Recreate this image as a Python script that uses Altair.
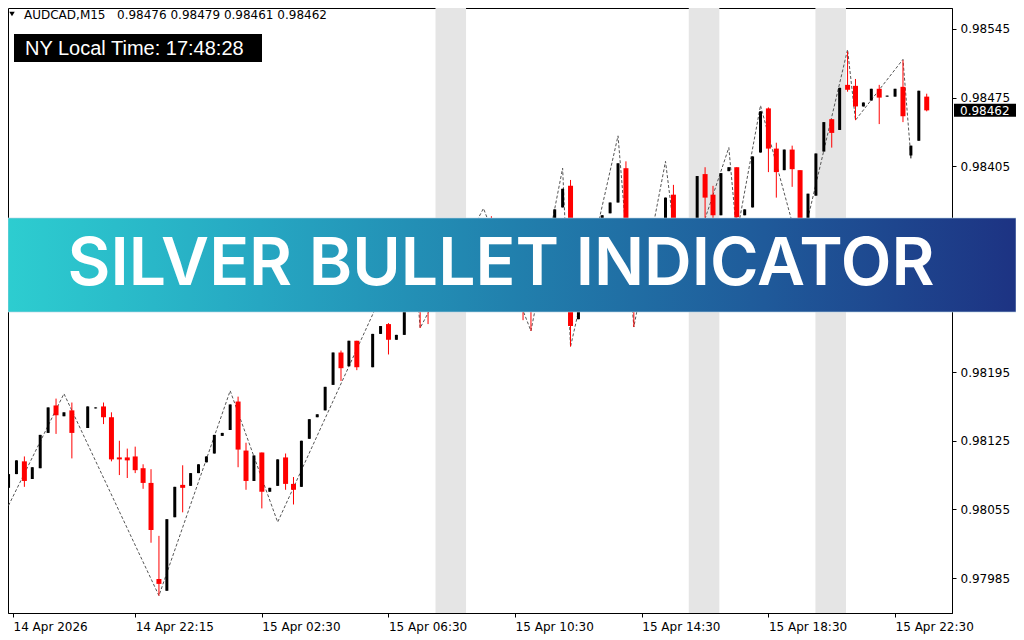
import altair as alt
import pandas as pd

# ---------------- data ----------------
bar_index = [0, 1, 2, 3, 4, 5, 6, 7, 8,
             10, 11, 12, 13, 14, 15, 16, 17, 18, 19,
             20, 21, 22, 23, 24, 25, 26, 27, 28, 29,
             30, 31, 32, 33, 34, 35, 36, 37, 38, 39,
             40, 41, 42, 43, 44, 46, 47, 48, 49,
             50, 51, 52, 53, 54, 55, 56, 57, 58, 59,
             60, 61, 62, 63, 64, 65, 66, 67, 68, 69,
             70, 71, 72, 73, 74, 75, 76, 77, 78, 79,
             80, 81, 82, 83, 84, 85, 86, 87, 88, 89,
             90, 91, 92, 93, 94, 95, 96, 97, 98, 99,
             100, 101, 102, 103, 104, 105, 106, 107, 108, 109,
             110, 111, 112, 113, 114, 115, 116]

open_ = [0.98077, 0.98091, 0.98104, 0.98086, 0.98097, 0.98133, 0.98161, 0.98150, 0.98156,
         0.98138, 0.98158, 0.98160, 0.98149, 0.98108, 0.98108, 0.98109, 0.98097, 0.98082, 0.97984,
         0.97972, 0.98047, 0.98080, 0.98079, 0.98092, 0.98103, 0.98112, 0.98130, 0.98136, 0.98165,
         0.98115, 0.98084, 0.98113, 0.98073, 0.98079, 0.98108, 0.98081, 0.98078, 0.98127, 0.98149,
         0.98156, 0.98182, 0.98215, 0.98201, 0.98227, 0.98200, 0.98234, 0.98244, 0.98228,
         0.98233, 0.98269, 0.98330, 0.98279, 0.98263, 0.98284, 0.98304, 0.98294, 0.98320, 0.98335,
         0.98345, 0.98330, 0.98304, 0.98279, 0.98269, 0.98279, 0.98269, 0.98263, 0.98284, 0.98320,
         0.98363, 0.98385, 0.98249, 0.98309, 0.98330, 0.98330, 0.98357, 0.98368, 0.98403, 0.98289,
         0.98269, 0.98299, 0.98330, 0.98345, 0.98376, 0.98330, 0.98294, 0.98320, 0.98397, 0.98376,
         0.98355, 0.98400, 0.98404, 0.98355, 0.98363, 0.98419, 0.98464, 0.98423, 0.98401, 0.98422,
         0.98401, 0.98330, 0.98375, 0.98420, 0.98453, 0.98442, 0.98488, 0.98487, 0.98466, 0.98472,
         0.98484, 0.98476, 0.98476, 0.98486, 0.98416, 0.98431, 0.98476]

high_ = [0.98091, 0.98105, 0.98109, 0.98098, 0.98131, 0.98159, 0.98168, 0.98154, 0.98164,
         0.98160, 0.98159, 0.98164, 0.98154, 0.98125, 0.98117, 0.98119, 0.98101, 0.98096, 0.98028,
         0.98045, 0.98078, 0.98100, 0.98092, 0.98101, 0.98109, 0.98131, 0.98133, 0.98162, 0.98170,
         0.98123, 0.98110, 0.98113, 0.98077, 0.98106, 0.98112, 0.98088, 0.98125, 0.98147, 0.98152,
         0.98180, 0.98215, 0.98217, 0.98227, 0.98227, 0.98234, 0.98242, 0.98245, 0.98233,
         0.98269, 0.98342, 0.98335, 0.98289, 0.98284, 0.98304, 0.98304, 0.98320, 0.98335, 0.98345,
         0.98351, 0.98354, 0.98304, 0.98279, 0.98279, 0.98279, 0.98274, 0.98284, 0.98320, 0.98361,
         0.98382, 0.98391, 0.98320, 0.98330, 0.98345, 0.98355, 0.98368, 0.98408, 0.98410, 0.98289,
         0.98299, 0.98330, 0.98345, 0.98373, 0.98386, 0.98330, 0.98320, 0.98395, 0.98404, 0.98385,
         0.98398, 0.98404, 0.98404, 0.98361, 0.98415, 0.98461, 0.98465, 0.98429, 0.98422, 0.98426,
         0.98401, 0.98377, 0.98418, 0.98450, 0.98453, 0.98485, 0.98522, 0.98494, 0.98470, 0.98484,
         0.98488, 0.98477, 0.98484, 0.98513, 0.98426, 0.98482, 0.98479]

low_ = [0.98077, 0.98091, 0.98078, 0.98086, 0.98097, 0.98133, 0.98132, 0.98150, 0.98107,
        0.98138, 0.98158, 0.98142, 0.98104, 0.98090, 0.98087, 0.98092, 0.98076, 0.98021, 0.97967,
        0.97972, 0.98047, 0.98052, 0.98079, 0.98092, 0.98103, 0.98112, 0.98130, 0.98136, 0.98098,
        0.98075, 0.98084, 0.98056, 0.98073, 0.98079, 0.98075, 0.98060, 0.98078, 0.98127, 0.98149,
        0.98156, 0.98182, 0.98186, 0.98201, 0.98197, 0.98200, 0.98234, 0.98213, 0.98228,
        0.98233, 0.98269, 0.98240, 0.98244, 0.98263, 0.98284, 0.98294, 0.98294, 0.98320, 0.98335,
        0.98325, 0.98294, 0.98279, 0.98269, 0.98269, 0.98248, 0.98237, 0.98263, 0.98284, 0.98320,
        0.98363, 0.98221, 0.98249, 0.98309, 0.98330, 0.98330, 0.98357, 0.98368, 0.98279, 0.98241,
        0.98269, 0.98299, 0.98330, 0.98345, 0.98330, 0.98279, 0.98294, 0.98320, 0.98352, 0.98348,
        0.98355, 0.98400, 0.98335, 0.98355, 0.98363, 0.98419, 0.98399, 0.98373, 0.98401, 0.98384,
        0.98318, 0.98330, 0.98375, 0.98420, 0.98424, 0.98442, 0.98481, 0.98452, 0.98466, 0.98472,
        0.98448, 0.98476, 0.98476, 0.98450, 0.98413, 0.98431, 0.98461]

close_ = [0.98091, 0.98105, 0.98084, 0.98098, 0.98131, 0.98159, 0.98151, 0.98154, 0.98133,
          0.98160, 0.98159, 0.98149, 0.98106, 0.98106, 0.98105, 0.98095, 0.98082, 0.98034, 0.97979,
          0.98045, 0.98078, 0.98077, 0.98092, 0.98101, 0.98109, 0.98131, 0.98133, 0.98162, 0.98116,
          0.98084, 0.98110, 0.98073, 0.98077, 0.98106, 0.98081, 0.98075, 0.98125, 0.98147, 0.98152,
          0.98180, 0.98215, 0.98199, 0.98227, 0.98200, 0.98234, 0.98242, 0.98228, 0.98233,
          0.98269, 0.98335, 0.98269, 0.98263, 0.98284, 0.98304, 0.98294, 0.98320, 0.98335, 0.98345,
          0.98330, 0.98299, 0.98279, 0.98269, 0.98279, 0.98258, 0.98258, 0.98284, 0.98320, 0.98361,
          0.98382, 0.98242, 0.98320, 0.98330, 0.98345, 0.98355, 0.98368, 0.98408, 0.98279, 0.98269,
          0.98299, 0.98330, 0.98345, 0.98373, 0.98330, 0.98299, 0.98320, 0.98395, 0.98373, 0.98355,
          0.98398, 0.98404, 0.98353, 0.98361, 0.98415, 0.98461, 0.98423, 0.98399, 0.98422, 0.98402,
          0.98340, 0.98377, 0.98418, 0.98450, 0.98439, 0.98485, 0.98483, 0.98466, 0.98470, 0.98484,
          0.98475, 0.98477, 0.98484, 0.98456, 0.98426, 0.98482, 0.98462]

# zigzag turning points (bar index, price)
zz_index = [0, 7, 19, 28, 34, 51, 52, 60, 66, 70, 71, 77, 79, 83, 85, 91, 92, 95, 100, 106, 107, 113, 114]
zz_price = [0.98059, 0.98173, 0.97967, 0.98176, 0.98042, 0.98342, 0.98240, 0.98362, 0.98237,
            0.98403, 0.98221, 0.98436, 0.98241, 0.98410, 0.98279, 0.98424, 0.98335, 0.98467,
            0.98318, 0.98524, 0.98452, 0.98514, 0.98414]

# silver bullet session windows (bar index)
band_start = [54, 86, 102]
band_end = [58, 90, 106]

x_tick_index = [0.5625, 16, 32, 48, 64, 80, 96, 112]
x_tick_labels = ["14 Apr 2026", "14 Apr 22:15", "15 Apr 02:30", "15 Apr 06:30",
                 "15 Apr 10:30", "15 Apr 14:30", "15 Apr 18:30", "15 Apr 22:30"]
y_ticks = [0.97985, 0.98055, 0.98125, 0.98195, 0.98265, 0.98335, 0.98405, 0.98475, 0.98545]

symbol = "AUDCAD,M15"
ny_time = "NY Local Time: 17:48:28"
banner_title = "SILVER BULLET INDICATOR"

# ---------------- chart ----------------
W, H = 944, 605
RIGHT = 64

df = pd.DataFrame({"k": bar_index, "open": open_, "high": high_, "low": low_, "close": close_})
df["dir"] = ["up" if c >= o else "down" for o, c in zip(open_, close_)]

zz = pd.DataFrame({"k": zz_index, "p": zz_price})
bands = pd.DataFrame({"s": band_start, "e": band_end})
last = pd.DataFrame({"p": [close_[-1]], "t": [f"{close_[-1]:.5f}"]})
one = pd.DataFrame({"a": [0]})

xs = alt.Scale(domain=[0.5625, 118.5625], nice=False, zero=False)
ys = alt.Scale(domain=[0.9794932, 0.985664], nice=False, zero=False)

label_arr = "[" + ",".join(f"'{t}'" for t in x_tick_labels) + "]"
xaxis = alt.Axis(values=x_tick_index, labelExpr=f"{label_arr}[floor(datum.value / 16)]",
                 title=None, grid=False, tickSize=4, labelPadding=4, labelAlign="left",
                 labelFlush=False, labelOverlap=False, labelBound=False,
                 domainColor="black", tickColor="black", labelColor="black",
                 labelFont="DejaVu Sans", labelFontSize=12)
yaxis = alt.Axis(values=y_ticks, format=".5f", orient="right", title=None, grid=False,
                 tickSize=4, labelPadding=4, labelFlush=False, labelOverlap=False,
                 domainColor="black", tickColor="black", labelColor="black",
                 labelFont="DejaVu Sans", labelFontSize=12)

band_layer = alt.Chart(bands).transform_calculate(
    s0="datum.s - 0.06", e0="datum.e - 0.2"
).mark_rect(color="#e5e5e5").encode(
    x=alt.X("s0:Q", scale=xs, axis=xaxis), x2="e0:Q",
    y=alt.value(0), y2=alt.value(H))

zz_layer = alt.Chart(zz).mark_line(color="#555555", strokeWidth=1, strokeDash=[3, 2]).encode(
    x=alt.X("k:Q", scale=xs, axis=xaxis), y=alt.Y("p:Q", scale=ys, axis=yaxis), order="k:Q")

wick_layer = alt.Chart(df).mark_rule(strokeWidth=1).encode(
    x=alt.X("k:Q", scale=xs, axis=xaxis), y=alt.Y("low:Q", scale=ys, axis=yaxis), y2="high:Q",
    color=alt.Color("dir:N", scale=alt.Scale(domain=["up", "down"], range=["#000000", "#ff0000"]),
                    legend=None))

up_layer = alt.Chart(df).transform_filter("datum.dir == 'up'").mark_bar(size=3, color="#000000").encode(
    x=alt.X("k:Q", scale=xs, axis=xaxis), y=alt.Y("open:Q", scale=ys, axis=yaxis), y2="close:Q")

down_layer = alt.Chart(df).transform_filter("datum.dir == 'down'").mark_bar(size=5, color="#ff0000").encode(
    x=alt.X("k:Q", scale=xs, axis=xaxis), y=alt.Y("open:Q", scale=ys, axis=yaxis), y2="close:Q")

grad = alt.Gradient(gradient="linear",
                    stops=[alt.GradientStop(color="#2dcdd0", offset=0),
                           alt.GradientStop(color="#26a7c2", offset=0.25),
                           alt.GradientStop(color="#2180ad", offset=0.5),
                           alt.GradientStop(color="#1f5a9a", offset=0.75),
                           alt.GradientStop(color="#1d3383", offset=1)],
                    x1=0, x2=1, y1=0, y2=0)
banner = alt.Chart(one).mark_rect(fill=grad, stroke="#b9d3e3", strokeWidth=1, strokeOpacity=0.6).encode(
    x=alt.value(0), x2=alt.value(W + RIGHT), y=alt.value(210), y2=alt.value(304))
banner_text = alt.Chart(one).mark_text(text=banner_title, font="Inter", fontSize=66, fontWeight=600,
                                       color="white", align="center", baseline="alphabetic").encode(
    x=alt.value(493), y=alt.value(277))

tri = alt.Chart(one).mark_point(shape="triangle-down", filled=True, color="black", size=30, opacity=1).encode(
    x=alt.value(4), y=alt.value(6))
sym_text = alt.Chart(one).mark_text(text=symbol, font="DejaVu Sans", fontSize=12, color="black",
                                    align="left", baseline="alphabetic").encode(
    x=alt.value(16), y=alt.value(11))
ohlc_text = alt.Chart(one).mark_text(
    text=f"{open_[-1]:.5f} {high_[-1]:.5f} {low_[-1]:.5f} {close_[-1]:.5f}",
    font="DejaVu Sans", fontSize=12, color="black", align="left", baseline="alphabetic").encode(
    x=alt.value(109), y=alt.value(11))

ny_box = alt.Chart(one).mark_rect(color="black").encode(
    x=alt.value(6), x2=alt.value(254), y=alt.value(26), y2=alt.value(54))
ny_text = alt.Chart(one).mark_text(text=ny_time, font="Liberation Sans", fontSize=20, color="white",
                                   align="left", baseline="alphabetic").encode(
    x=alt.value(17), y=alt.value(47))

price_box = alt.Chart(last).mark_tick(color="black", thickness=13, size=62, orient="horizontal", opacity=1).encode(
    x=alt.value(977), y=alt.Y("p:Q", scale=ys, axis=yaxis))
price_text = alt.Chart(last).mark_text(font="DejaVu Sans", fontSize=12, color="white",
                                       align="left", baseline="middle", dy=1).encode(
    x=alt.value(952), y=alt.Y("p:Q", scale=ys, axis=yaxis), text="t:N")

chart = alt.layer(
    band_layer, zz_layer, wick_layer, up_layer, down_layer,
    price_box, price_text,
    banner, banner_text,
    tri, sym_text, ohlc_text, ny_box, ny_text,
).properties(
    width=W, height=H,
    autosize=alt.AutoSizeParams(type="none"),
    padding={"left": 0, "top": 0, "right": RIGHT, "bottom": 24},
    background="white",
).configure_view(stroke="black", strokeWidth=1)

chart.save("out.html", embed_options={"renderer": "svg", "actions": False})
